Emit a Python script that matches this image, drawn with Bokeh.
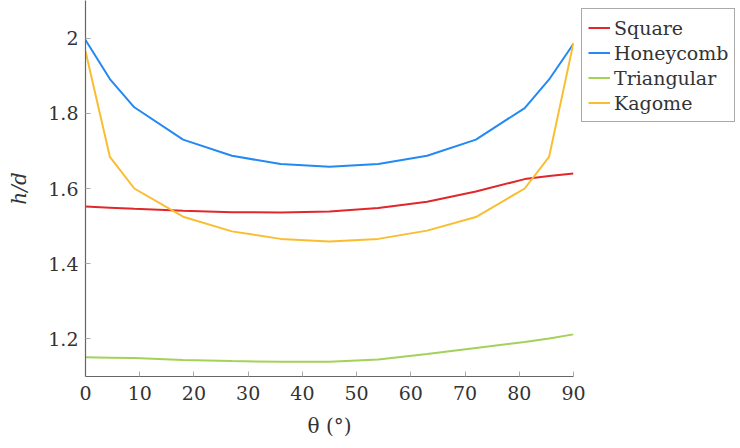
from bokeh.plotting import figure
from bokeh.models import Range1d, FixedTicker, CustomJSTickFormatter, Legend, LegendItem
from bokeh.embed import file_html
from bokeh.resources import INLINE

theta = [0, 4.5, 9, 18, 27, 36, 45, 54, 63, 72, 81, 85.5, 90]
square = [1.552, 1.549, 1.546, 1.541, 1.537, 1.536, 1.539, 1.548, 1.565, 1.592, 1.625, 1.633, 1.640]
honeycomb = [1.995, 1.891, 1.816, 1.730, 1.687, 1.665, 1.658, 1.665, 1.687, 1.730, 1.814, 1.890, 1.985]
triangular = [1.151, 1.150, 1.149, 1.144, 1.141, 1.139, 1.139, 1.145, 1.160, 1.176, 1.192, 1.201, 1.212]
kagome = [1.965, 1.684, 1.600, 1.525, 1.486, 1.466, 1.459, 1.466, 1.488, 1.524, 1.600, 1.684, 1.988]

series_names = ["Square", "Honeycomb", "Triangular", "Kagome"]
colors = ["#e0282c", "#2389f3", "#a3d15a", "#fbbd30"]
x_ticks = [0, 10, 20, 30, 40, 50, 60, 70, 80, 90]
y_ticks = [1.2, 1.4, 1.6, 1.8, 2.0]

FONT = "'DejaVu Serif', serif"

p = figure(frame_width=488, frame_height=376, output_backend="svg", toolbar_location=None,
           x_range=Range1d(0, 90), y_range=Range1d(1.1, 2.1),
           min_border_left=85, min_border_top=0, min_border_bottom=72, min_border_right=0)
p.outline_line_color = None
p.xgrid.visible = False
p.ygrid.visible = False

items = []
for name, ys, c in zip(series_names, [square, honeycomb, triangular, kagome], colors):
    r = p.line(theta, ys, line_color=c, line_width=2)
    items.append(LegendItem(label=name, renderers=[r]))

fmt = CustomJSTickFormatter(code="return parseFloat(tick.toFixed(1)).toString();")
p.xaxis.ticker = FixedTicker(ticks=x_ticks)
p.yaxis.ticker = FixedTicker(ticks=y_ticks)
p.yaxis.formatter = fmt
for ax in (p.xaxis[0], p.yaxis[0]):
    ax.axis_line_color = "#666666"
    ax.axis_line_width = 1.2
    ax.major_tick_in = 5
    ax.major_tick_out = 0
    ax.major_tick_line_color = "#aaaaaa"
    ax.minor_tick_line_color = None
    ax.major_label_text_font = FONT
    ax.major_label_text_font_size = "19px"
    ax.major_label_text_color = "#333333"
    ax.axis_label_text_font = FONT
    ax.axis_label_text_font_size = "20px"
    ax.axis_label_text_color = "#333333"

p.xaxis.axis_label = "θ (°)"
p.xaxis.axis_label_text_font_style = "normal"
p.xaxis.major_label_standoff = 9
p.xaxis.axis_label_standoff = 11
p.yaxis.axis_label = "h/d"
p.yaxis.axis_label_text_font_style = "italic"
p.yaxis.major_label_standoff = 7
p.yaxis.axis_label_standoff = 14

legend = Legend(items=items, location="top_left", margin=8, padding=6, spacing=0,
                label_text_font=FONT, label_text_font_size="19px", label_text_color="#333333",
                label_height=25, glyph_height=25, glyph_width=22, label_standoff=4,
                border_line_color="#555555", border_line_width=1,
                background_fill_color="white", background_fill_alpha=1.0)
p.add_layout(legend, "right")

open("out.html", "w").write(file_html(p, INLINE))
